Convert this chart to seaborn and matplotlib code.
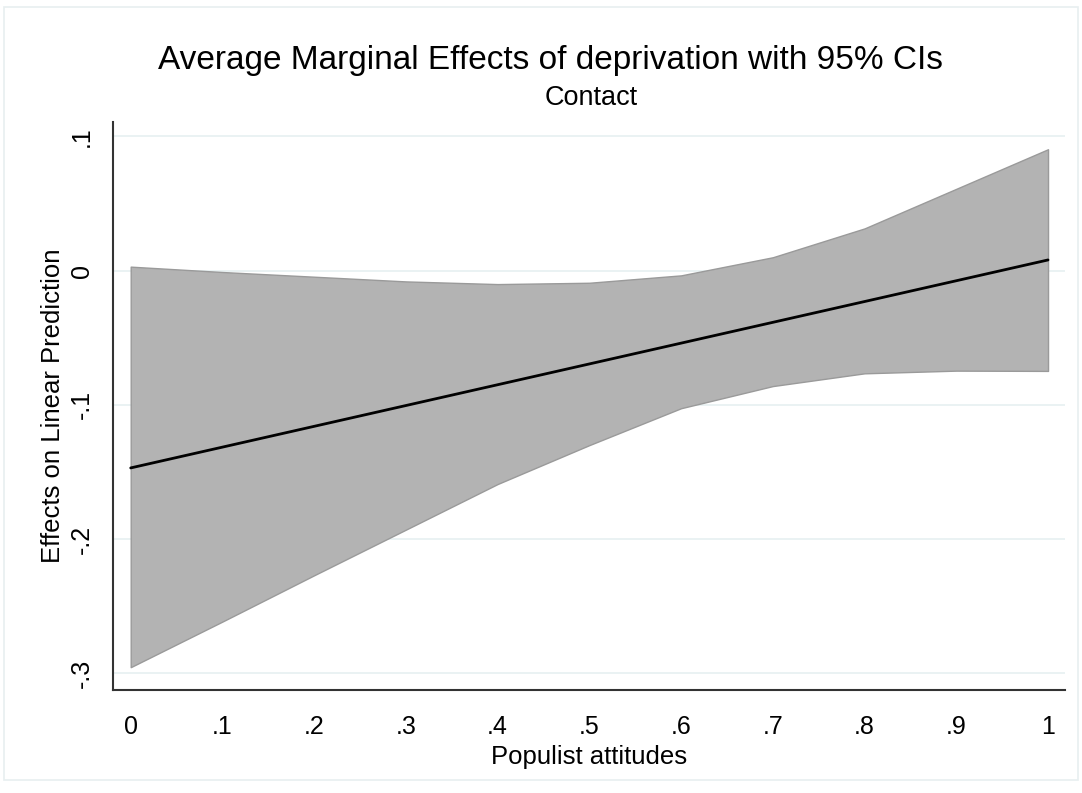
import numpy as np
import pandas as pd
import matplotlib
matplotlib.use("Agg")
import matplotlib.pyplot as plt
import seaborn as sns
from matplotlib.patches import Rectangle

# Data
populist = [0.0, 0.1, 0.2, 0.3, 0.4, 0.5, 0.6, 0.7, 0.8, 0.9, 1.0]
ame = [-0.147, -0.1315, -0.116, -0.1005, -0.085, -0.0695, -0.054, -0.0385, -0.023, -0.0075, 0.008]
ci_upper = [0.003, -0.001, -0.0045, -0.008, -0.010, -0.009, -0.0035, 0.010, 0.0315, 0.061, 0.0905]
ci_lower = [-0.2955, -0.2615, -0.227, -0.193, -0.159, -0.130, -0.1025, -0.086, -0.0765, -0.0745, -0.0747]

xticks = [0, 0.1, 0.2, 0.3, 0.4, 0.5, 0.6, 0.7, 0.8, 0.9, 1.0]
xticklabels = ["0", ".1", ".2", ".3", ".4", ".5", ".6", ".7", ".8", ".9", "1"]
yticks = [0.1, 0.0, -0.1, -0.2, -0.3]
yticklabels = [".1", "0", "-.1", "-.2", "-.3"]

title = "Average Marginal Effects of deprivation with 95% CIs"
subtitle = "Contact"
xlabel = "Populist attitudes"
ylabel = "Effects on Linear Prediction"

df = pd.DataFrame({"x": populist, "ame": ame, "lo": ci_lower, "hi": ci_upper})

sns.set_style("white")
plt.rcParams["font.family"] = ["Liberation Sans", "DejaVu Sans"]
plt.rcParams["text.color"] = "black"
plt.rcParams["axes.labelcolor"] = "black"
plt.rcParams["xtick.color"] = "black"
plt.rcParams["ytick.color"] = "black"

fig = plt.figure(figsize=(10.82, 7.93), dpi=100)
fig.patch.set_facecolor("white")
ax = fig.add_axes([113 / 1082, 1 - 690 / 793, (1065 - 113) / 1082, (690 - 122) / 793])

ax.fill_between(df["x"], df["lo"], df["hi"], facecolor="#b3b3b3", edgecolor="#9a9a9a",
                linewidth=1.0, zorder=2)
sns.lineplot(data=df, x="x", y="ame", ax=ax, color="black", linewidth=2.0, zorder=3)

ax.set_xlim(-0.0193, 1.0185)
ax.set_ylim(-0.3125, 0.1108)

ax.set_xticks(xticks)
ax.set_xticklabels(xticklabels, fontsize=18)
ax.set_yticks(yticks)
ax.set_yticklabels(yticklabels, fontsize=18, rotation=90, va="center")

for y in yticks:
    ax.axhline(y, color="#e6f0f1", linewidth=1.2, zorder=1)

for s in ["top", "right"]:
    ax.spines[s].set_visible(False)
for s in ["left", "bottom"]:
    ax.spines[s].set_color("#333333")
    ax.spines[s].set_linewidth(1.5)

ax.tick_params(axis="both", direction="out", length=9, width=1.5, color="#333333")
ax.tick_params(axis="x", pad=9)
ax.tick_params(axis="y", pad=5)

ax.set_xlabel(xlabel, fontsize=18.5, labelpad=4)
ax.set_ylabel(ylabel, fontsize=18.5, labelpad=3)

fig.text(551 / 1082, 1 - 60 / 793, title, ha="center", va="center", fontsize=24)
fig.text(591 / 1082, 1 - 98 / 793, subtitle, ha="center", va="center", fontsize=19.5)

# faint outer graph-region frame
fig.patches.append(Rectangle((4 / 1082, 1 - 780 / 793), 1074 / 1082, 773 / 793,
                             transform=fig.transFigure, fill=False,
                             edgecolor="#e8eff0", linewidth=1.2))

fig.savefig("out.png", dpi=100, facecolor="white")
